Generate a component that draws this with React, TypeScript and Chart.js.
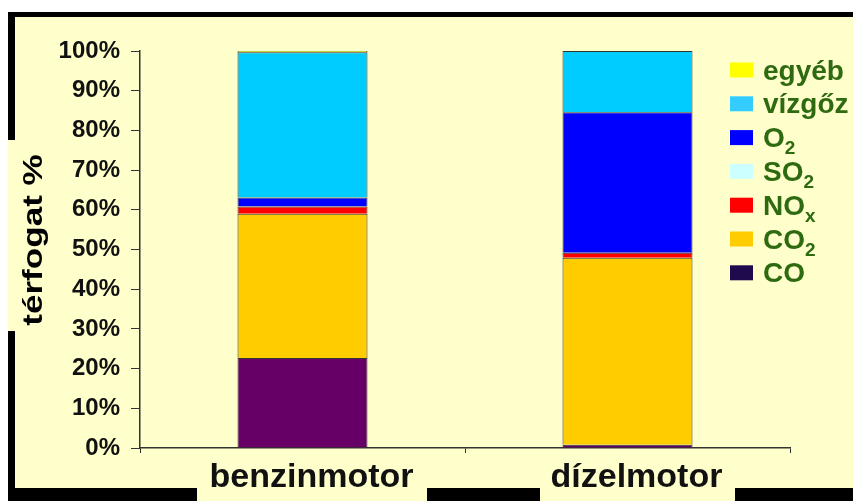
import { useEffect, useRef } from 'react';
import { Chart, registerables } from 'chart.js';

Chart.register(...registerables);

// ---- data ----
const categories = ['benzinmotor', 'dízelmotor'];
const seriesNames = ['CO', 'CO_2', 'NO_x', 'SO_2', 'O_2', 'vízgőz', 'egyéb'];
const coValues = [22.7, 0.8];
const co2Values = [36.3, 47.1];
const noxValues = [1.8, 1.3];
const so2Values = [0, 0];
const o2Values = [2.3, 35.4];
const steamValues = [36.6, 15.4];
const otherValues = [0.3, 0];
const yTickValues = [0, 10, 20, 30, 40, 50, 60, 70, 80, 90, 100];
const yTitle = 'térfogat %';

// ---- styles ----
const barColors = ['#660066', '#FFCC00', '#FF0000', '#CCFFFF', '#0000FF', '#00CCFF', '#FFFF00'];
const legendColors = ['#1E0B4E', '#FFCC00', '#FF0000', '#CCFFFF', '#0000FF', '#33CCFF', '#FFFF00'];
const FONT = '"Liberation Sans", Arial, sans-serif';
const CREAM = '#FFFFCC';

const seriesValues = [coValues, co2Values, noxValues, so2Values, o2Values, steamValues, otherValues];

const toUnicode = (s: string) =>
  s.replace('_2', '₂').replace('_x', 'ₓ');

const framePlugin = {
  id: 'frame',
  beforeDraw(chart: any) {
    const { ctx, width, height } = chart;
    ctx.save();
    ctx.fillStyle = '#FFFFFF';
    ctx.fillRect(0, 0, width, height);
    ctx.fillStyle = CREAM;
    ctx.fillRect(8, 12, width - 8, height - 12);
    ctx.fillStyle = '#000000';
    // top border
    ctx.fillRect(8, 12, width - 8, 5);
    // left border (gap for the title)
    ctx.fillRect(8, 12, 7, 128);
    ctx.fillRect(8, 331, 7, height - 331);
    // bottom border (gaps for the category labels)
    ctx.fillRect(8, 488, 189, height - 488);
    ctx.fillRect(427, 488, 113, height - 488);
    ctx.fillRect(735, 488, width - 735, height - 488);
    ctx.restore();
  },
  afterDraw(chart: any) {
    const { ctx } = chart;
    ctx.save();
    // y-axis title
    ctx.translate(35, 240);
    ctx.rotate(-Math.PI / 2);
    ctx.scale(1.3, 1);
    ctx.font = `bold 27px ${FONT}`;
    ctx.fillStyle = '#000000';
    ctx.textAlign = 'center';
    ctx.textBaseline = 'middle';
    ctx.fillText(yTitle, 0, 0);
    ctx.restore();

    // legend (top item = last series)
    ctx.save();
    const n = seriesNames.length;
    for (let k = 0; k < n; k++) {
      const i = n - 1 - k;
      const cy = 70 + k * 33.8;
      ctx.fillStyle = legendColors[i];
      ctx.fillRect(730, cy - 7.5, 23, 15);
      const [base, sub] = seriesNames[i].split('_');
      ctx.fillStyle = '#2E6A10';
      ctx.textAlign = 'left';
      ctx.textBaseline = 'alphabetic';
      ctx.font = `bold 28px ${FONT}`;
      const baseline = cy + 9.5;
      ctx.fillText(base, 763, baseline);
      if (sub) {
        const w = ctx.measureText(base).width;
        ctx.font = `bold 19px ${FONT}`;
        ctx.fillText(sub, 763 + w, baseline + 7);
      }
    }
    ctx.restore();
  },
};

export default function App() {
  const ref = useRef<HTMLCanvasElement | null>(null);

  useEffect(() => {
    if (!ref.current) return;
    const chart = new Chart(ref.current, {
      type: 'bar',
      data: {
        labels: categories,
        datasets: seriesNames.map((name, i) => ({
          label: toUnicode(name),
          data: seriesValues[i],
          backgroundColor: barColors[i],
          borderColor: '#333333',
          borderWidth: 1,
          barPercentage: 0.4,
          categoryPercentage: 1,
        })),
      },
      options: {
        animation: false,
        responsive: false,
        maintainAspectRatio: false,
        devicePixelRatio: 1,
        layout: { padding: { top: 51, right: 63, left: 0, bottom: 0 } },
        plugins: {
          legend: { display: false },
          tooltip: { enabled: false },
          title: { display: false },
        },
        scales: {
          x: {
            stacked: true,
            afterFit: (s: any) => { s.height = 53; },
            grid: {
              offset: true,
              drawOnChartArea: false,
              drawTicks: true,
              tickLength: 5,
              color: '#333333',
            },
            border: { display: true, color: '#333333', width: 1.5 },
            ticks: {
              color: '#111111',
              padding: 4,
              labelOffset: 9,
              font: { family: FONT, size: 34, weight: 'bold' },
            },
          },
          y: {
            stacked: true,
            min: 0,
            max: 100,
            afterFit: (s: any) => { s.width = 140; },
            afterBuildTicks: (s: any) => { s.ticks = yTickValues.map((v) => ({ value: v })); },
            grid: {
              drawOnChartArea: false,
              drawTicks: true,
              tickLength: 9,
              color: '#333333',
            },
            border: { display: true, color: '#333333', width: 1.5 },
            ticks: {
              color: '#111111',
              padding: 11,
              font: { family: FONT, size: 24, weight: 'bold' },
              callback: (v: any) => `${v}%`,
            },
          },
        },
      },
      plugins: [framePlugin],
    });
    return () => chart.destroy();
  }, []);

  return (
    <div style={{ position: 'fixed', left: 0, top: 0, width: 853, height: 501 }}>
      <canvas ref={ref} width={853} height={501} style={{ width: 853, height: 501, display: 'block' }} />
    </div>
  );
}
